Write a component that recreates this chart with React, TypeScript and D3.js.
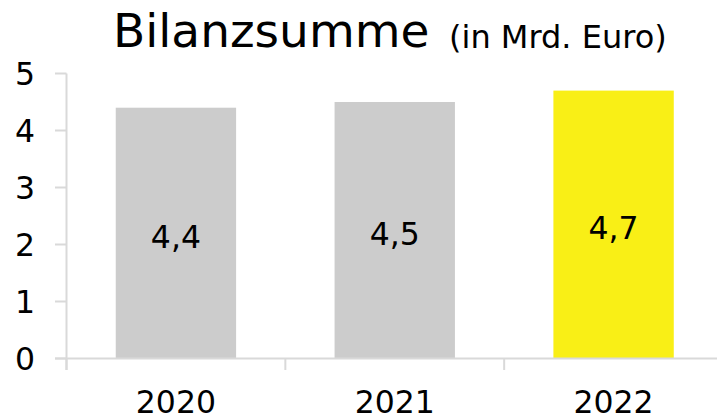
import React from "react";
import * as d3 from "d3";

const categories = ["2020", "2021", "2022"];
const values = [4.4, 4.5, 4.7];
const labels = ["4,4", "4,5", "4,7"];
const barColors = ["#cccccc", "#cccccc", "#f9ef16"];
const yTicks = [0, 1, 2, 3, 4, 5];

const W = 717;
const H = 419;
const FONT = "'DejaVu Sans', Verdana, sans-serif";

export default function App() {
  const x = d3
    .scaleBand<string>()
    .domain(categories)
    .range([66.5, 723])
    .paddingInner(0.45)
    .paddingOuter(0.225);
  const y = d3.scaleLinear().domain([0, 5]).range([358.5, 73.5]);
  const step = x.step();
  const axisColor = "#d9d9d9";

  return (
    <svg
      width={W}
      height={H}
      style={{ position: "absolute", left: 0, top: 0, background: "#fff" }}
      fontFamily={FONT}
    >
      <text x={113} y={46.5} fontSize={47} fill="#000">
        Bilanzsumme
      </text>
      <text x={449} y={48} fontSize={32} fill="#000">
        (in Mrd. Euro)
      </text>

      {/* y axis */}
      <line x1={66.5} x2={66.5} y1={y(5)} y2={370} stroke={axisColor} strokeWidth={2} />
      {yTicks.map((t) => (
        <g key={t}>
          <line x1={55} x2={66.5} y1={y(t)} y2={y(t)} stroke={axisColor} strokeWidth={2} />
          <text x={35} y={y(t) + 11.5} fontSize={31.5} textAnchor="end" fill="#000">
            {t}
          </text>
        </g>
      ))}

      {/* bars */}
      {categories.map((c, i) => {
        const x0 = x(c)!;
        const top = y(values[i]);
        const mid = (top + y(0)) / 2;
        return (
          <g key={c}>
            <rect x={x0} y={top} width={x.bandwidth()} height={y(0) - top} fill={barColors[i]} />
            <text
              x={x0 + x.bandwidth() / 2}
              y={mid + 14.5}
              fontSize={31.5}
              textAnchor="middle"
              fill="#000"
            >
              {labels[i]}
            </text>
          </g>
        );
      })}

      {/* x axis */}
      <line x1={55} x2={W} y1={y(0)} y2={y(0)} stroke={axisColor} strokeWidth={2} />
      {categories.map((c) => {
        const bx = x(c)! - (step - x.bandwidth()) / 2;
        return (
          <g key={"t" + c}>
            <line x1={bx} x2={bx} y1={y(0)} y2={370} stroke={axisColor} strokeWidth={2} />
            <text
              x={x(c)! + x.bandwidth() / 2}
              y={413}
              fontSize={31.5}
              textAnchor="middle"
              fill="#000"
            >
              {c}
            </text>
          </g>
        );
      })}
    </svg>
  );
}
